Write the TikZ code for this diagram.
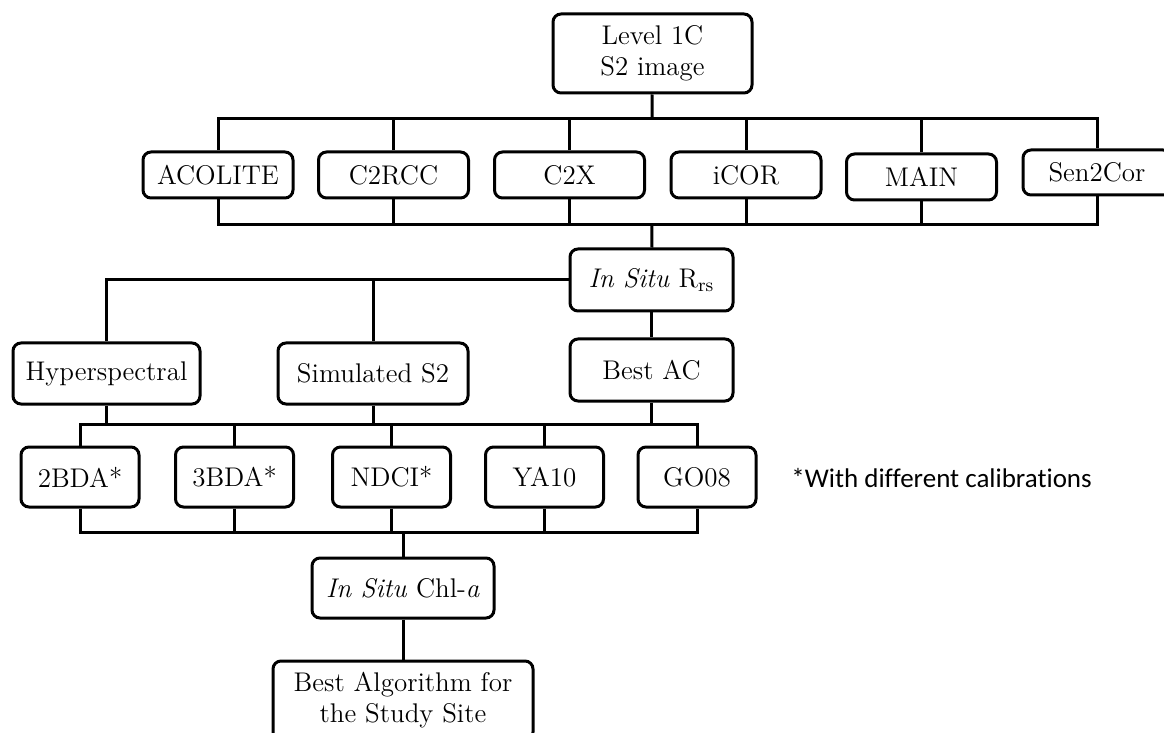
\documentclass[tikz,border=0pt]{standalone}
\usepackage{fontspec}
\newfontfamily\notefont[Ligatures=NoCommon]{Carlito}
\tikzset{
	box/.style={draw, line width=1.5pt, rounded corners=4pt, align=center, inner sep=0pt, font=\fontsize{13.5}{15.5}\selectfont},
	link/.style={line width=1.5pt}
}
\begin{document}
\begin{tikzpicture}[x=0.5pt,y=-0.5pt]
		\clip (0,0) rectangle (1164,733);
		% source image and atmospheric corrections
		\node (lvl) [box, minimum width=99.5pt, minimum height=39.5pt] at (652.5,53.5) {Level 1C\\S2 image};
		\node (acolite) [box, minimum width=75pt, minimum height=23pt] at (218,175) {ACOLITE};
		\node (c2rcc) [box, minimum width=75pt, minimum height=23pt] at (393.5,175) {C2RCC};
		\node (c2x) [box, minimum width=75pt, minimum height=23pt] at (569.5,175) {C2X};
		\node (icor) [box, minimum width=75pt, minimum height=23pt] at (746,175) {iCOR};
		\node (main) [box, minimum width=75pt, minimum height=23pt] at (921.5,177) {MAIN};
		\node (sen2cor) [box, minimum width=74pt, minimum height=22.5pt] at (1097,172.5) {Sen2Cor};
		% reflectance
		\node (rrs) [box, minimum width=81.5pt, minimum height=31pt] at (651.5,280) {\textit{In Situ} R$_{\mathrm{rs}}$};
		\node (hyper) [box, minimum width=93.5pt, minimum height=30.5pt] at (106.5,373.5) {Hyperspectral};
		\node (sim) [box, minimum width=95pt, minimum height=30.5pt] at (373,373.5) {Simulated S2};
		\node (bestac) [box, minimum width=81.5pt, minimum height=31pt] at (651.5,370) {Best AC};
		% algorithms
		\node (bda2) [box, minimum width=59pt, minimum height=30pt] at (80,477) {2BDA*};
		\node (bda3) [box, minimum width=59pt, minimum height=30pt] at (234.5,477) {3BDA*};
		\node (ndci) [box, minimum width=59pt, minimum height=30pt] at (391.5,477) {NDCI*};
		\node (ya10) [box, minimum width=59pt, minimum height=30pt] at (544.5,477) {YA10};
		\node (go08) [box, minimum width=59pt, minimum height=30pt] at (697,477) {GO08};
		\node (note) [anchor=west, inner sep=0pt, font=\notefont\fontsize{13.5}{16}\selectfont] at (791,478) {*With different calibrations};
		\node (chla) [box, minimum width=91pt, minimum height=30pt] at (403,588) {\textit{In Situ} Chl-\textit{a}};
		\node (bestalg) [box, minimum width=130pt, minimum height=39.5pt] at (403,700.5) {Best Algorithm for\\the Study Site};

		\coordinate (top) at (652,119);
		\coordinate (bot) at (652,224.5);
		\coordinate (mid) at (391.5,424);
		\coordinate (low) at (403,532);
		\draw [link] (lvl) -- (top);
		\draw [link] (acolite.north) |- (top) -| (sen2cor.north);
		\draw [link] (acolite.south) |- (bot) -| (sen2cor.south);
		\foreach \n in {c2rcc,c2x,icor,main}{
			\draw [link] (\n.north) -- (\n.north |- top);
			\draw [link] (\n.south) -- (\n.south |- bot);
		}
		\draw [link] (bot) -- (rrs);
		\draw [link] (rrs.west) -| (hyper.north);
		\draw [link] (sim.north) -- (sim.north |- rrs.west);
		\draw [link] (rrs) -- (bestac);
		\foreach \n in {hyper,sim,bestac}
			\draw [link] (\n.south) -- (\n.south |- mid);
		\draw [link] (bda2.north) |- (mid) -| (go08.north);
		\draw [link] (bda2.south) |- (low) -| (go08.south);
		\foreach \n in {bda3,ndci,ya10}{
			\draw [link] (\n.north) -- (\n.north |- mid);
			\draw [link] (\n.south) -- (\n.south |- low);
		}
		\draw [link] (low) -- (chla);
		\draw [link] (chla) -- (bestalg);
\end{tikzpicture}
\end{document}
